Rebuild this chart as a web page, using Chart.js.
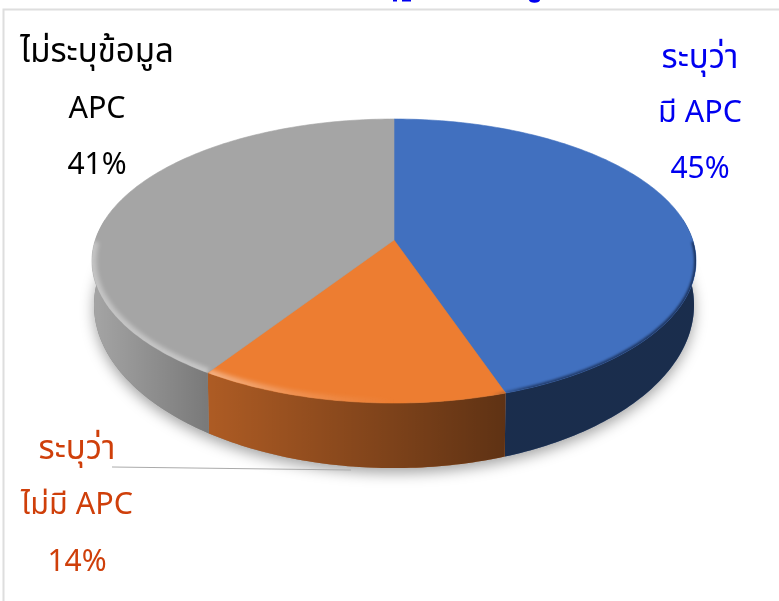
<!DOCTYPE html>
<html><head><meta charset="utf-8">
<style>html,body{margin:0;padding:0;background:#fff}canvas{display:block}#w{width:779px;height:601px}</style>
<script src="https://cdn.jsdelivr.net/npm/chart.js@4"></script>
</head><body><div id="w"><canvas id="c"></canvas></div>
<script>
const categories = ['ระบุว่ามี APC', 'ระบุว่าไม่มี APC', 'ไม่ระบุข้อมูล APC'];
const shareValues = [44.8, 14.4, 40.8];
const sliceColors = ['#4170BF', '#ED7D31', '#A5A5A5'];
const blueLabel = ['ระบุว่า', 'มี APC', '45%'];
const orangeLabel = ['ระบุว่า', 'ไม่มี APC', '14%'];
const greyLabel = ['ไม่ระบุข้อมูล', 'APC', '41%'];
const FONT = '"Noto Sans Thai","Noto Sans",Tahoma,"DejaVu Sans",sans-serif';

// Perspective view of the pie disc: unit circle -> screen
const P = 0.148, CX = 394;
const TOP = {a: 298.7, b: 138.9, y: 240};
const BOT = {a: 296.7, b: 159.4, y: 281};
const project = (f, ang) => { // ang = Chart.js arc angle
  const u = Math.cos(ang), v = Math.sin(ang), d = 1 - P * v;
  return [CX + f.a * u / d, f.y + f.b * v / d];
};
const steps = (s, e) => { const n = Math.max(2, Math.ceil((e - s) * 60)), r = []; for (let i = 0; i <= n; i++) r.push(s + (e - s) * i / n); return r; };
const HALF = Math.PI;
const frontAngles = (s, e, margin) => steps(s, e).filter(a => {
  const n = ((a % (2 * HALF)) + 2 * HALF) % (2 * HALF);
  return n <= HALF + margin || n >= 2 * HALF - margin;
});
const trace = (path, f, list, move) => list.forEach((a, i) => {
  const p = project(f, a);
  (i === 0 && move) ? path.moveTo(p[0], p[1]) : path.lineTo(p[0], p[1]);
});

class Arc3D extends Chart.ArcElement {
  draw(ctx) {
    const {startAngle: s, endAngle: e} = this.getProps(['startAngle', 'endAngle']);
    const col = this.options.backgroundColor;
    const ws = frontAngles(s, e, 0.16);
    ctx.save();
    if (ws.length > 1) {
      const path = new Path2D();
      trace(path, TOP, ws, true);
      trace(path, BOT, ws.slice().reverse(), false);
      path.closePath();
      ctx.fillStyle = col; ctx.fill(path);
      const g = ctx.createLinearGradient(92, 0, 697, 0);
      g.addColorStop(0, 'rgba(0,0,0,0)');
      g.addColorStop((210 - 92) / 605, 'rgba(0,0,0,0.27)');
      g.addColorStop((505 - 92) / 605, 'rgba(0,0,0,0.6)');
      g.addColorStop(1, 'rgba(0,0,0,0.6)');
      ctx.fillStyle = g; ctx.fill(path);
    }
    const face = new Path2D();
    face.moveTo(CX, TOP.y);
    trace(face, TOP, steps(s, e), false);
    face.closePath();
    ctx.fillStyle = col; ctx.fill(face);
    ctx.strokeStyle = col; ctx.lineWidth = 0.6; ctx.stroke(face);
    // bevel along the front rim only: light on the left, dark on the right
    const rimA = frontAngles(s, e, 0);
    if (rimA.length > 1) {
      const rim = new Path2D();
      trace(rim, TOP, rimA, true);
      ctx.clip(face);
      const lg = ctx.createLinearGradient(92, 0, 697, 0);
      lg.addColorStop(0, 'rgba(255,255,255,0.35)');
      lg.addColorStop(0.2, 'rgba(255,255,255,0.38)');
      lg.addColorStop(0.33, 'rgba(255,255,255,0.16)');
      lg.addColorStop(0.5, 'rgba(255,255,255,0)');
      lg.addColorStop(1, 'rgba(255,255,255,0)');
      ctx.filter = 'blur(2px)';
      ctx.strokeStyle = lg; ctx.lineWidth = 9; ctx.stroke(rim);
      const dg = ctx.createLinearGradient(92, 0, 697, 0);
      dg.addColorStop(0, 'rgba(15,30,60,0)');
      dg.addColorStop(0.66, 'rgba(15,30,60,0)');
      dg.addColorStop(0.72, 'rgba(15,30,60,0.6)');
      dg.addColorStop(1, 'rgba(15,30,60,0.75)');
      ctx.filter = 'blur(1px)';
      ctx.strokeStyle = dg; ctx.lineWidth = 4; ctx.stroke(rim);
    }
    ctx.restore();
  }
}
Arc3D.id = 'arc3d';
Arc3D.defaults = Object.assign({}, Chart.ArcElement.defaults);
Arc3D.defaultRoutes = Chart.ArcElement.defaultRoutes;
Chart.register(Arc3D);
Chart.defaults.datasets.pie.dataElementType = 'arc3d';

const dropShadow = {
  id: 'dropShadow',
  beforeDatasetsDraw(chart) {
    const ctx = chart.ctx;
    ctx.save();
    ctx.shadowColor = 'rgba(0,0,0,0.36)'; ctx.shadowBlur = 14; ctx.shadowOffsetY = 5;
    ctx.fillStyle = '#888';
    const p = new Path2D();
    trace(p, BOT, steps(0, 2 * HALF), true);
    p.closePath(); ctx.fill(p);
    ctx.restore();
  }
};
const frame = {
  id: 'frame',
  beforeDraw(chart) {
    const ctx = chart.ctx;
    ctx.save();
    ctx.strokeStyle = '#DEDEDE'; ctx.lineWidth = 2;
    ctx.beginPath(); ctx.moveTo(3.5, 601); ctx.lineTo(3.5, 9.5); ctx.lineTo(779, 9.5); ctx.stroke();
    // the cut-off bottoms of a heading above the crop
    ctx.fillStyle = '#0000F0';
    ctx.fillRect(393, 0, 4, 1.5);
    ctx.fillRect(402, 0, 9, 1.5);
    ctx.beginPath(); ctx.ellipse(534.5, 0, 5.5, 2.8, 0, 0, Math.PI); ctx.fill();
    ctx.restore();
  }
};
const lineSizes = [33, 30.5, 30];
const labels3d = {
  id: 'labels3d',
  afterDatasetsDraw(chart) {
    const ctx = chart.ctx;
    ctx.save();
    ctx.textAlign = 'center'; ctx.textBaseline = 'alphabetic';
    const put = (lines, col, x, ys) => {
      ctx.fillStyle = col;
      lines.forEach((t, i) => { ctx.font = lineSizes[i] + 'px ' + FONT; ctx.fillText(t, x, ys[i]); });
    };
    put(greyLabel, '#000000', 97, [62, 118, 174]);
    put(blueLabel, '#0000F0', 700, [68, 122, 178]);
    put(orangeLabel, '#CF3F0A', 77, [459, 514, 571]);
    ctx.strokeStyle = '#ABABAB'; ctx.lineWidth = 1.2;
    ctx.beginPath(); ctx.moveTo(112, 467); ctx.lineTo(351, 470); ctx.stroke();
    ctx.restore();
  }
};

new Chart(document.getElementById('c'), {
  type: 'pie',
  data: {labels: categories, datasets: [{data: shareValues, backgroundColor: sliceColors, borderWidth: 0}]},
  options: {
    responsive: true, maintainAspectRatio: false, animation: false,
    layout: {padding: {left: 9, right: 0, top: 0, bottom: 0}},
    plugins: {legend: {display: false}, tooltip: {enabled: false}, title: {display: false}}
  },
  plugins: [frame, dropShadow, labels3d]
});
</script></body></html>
